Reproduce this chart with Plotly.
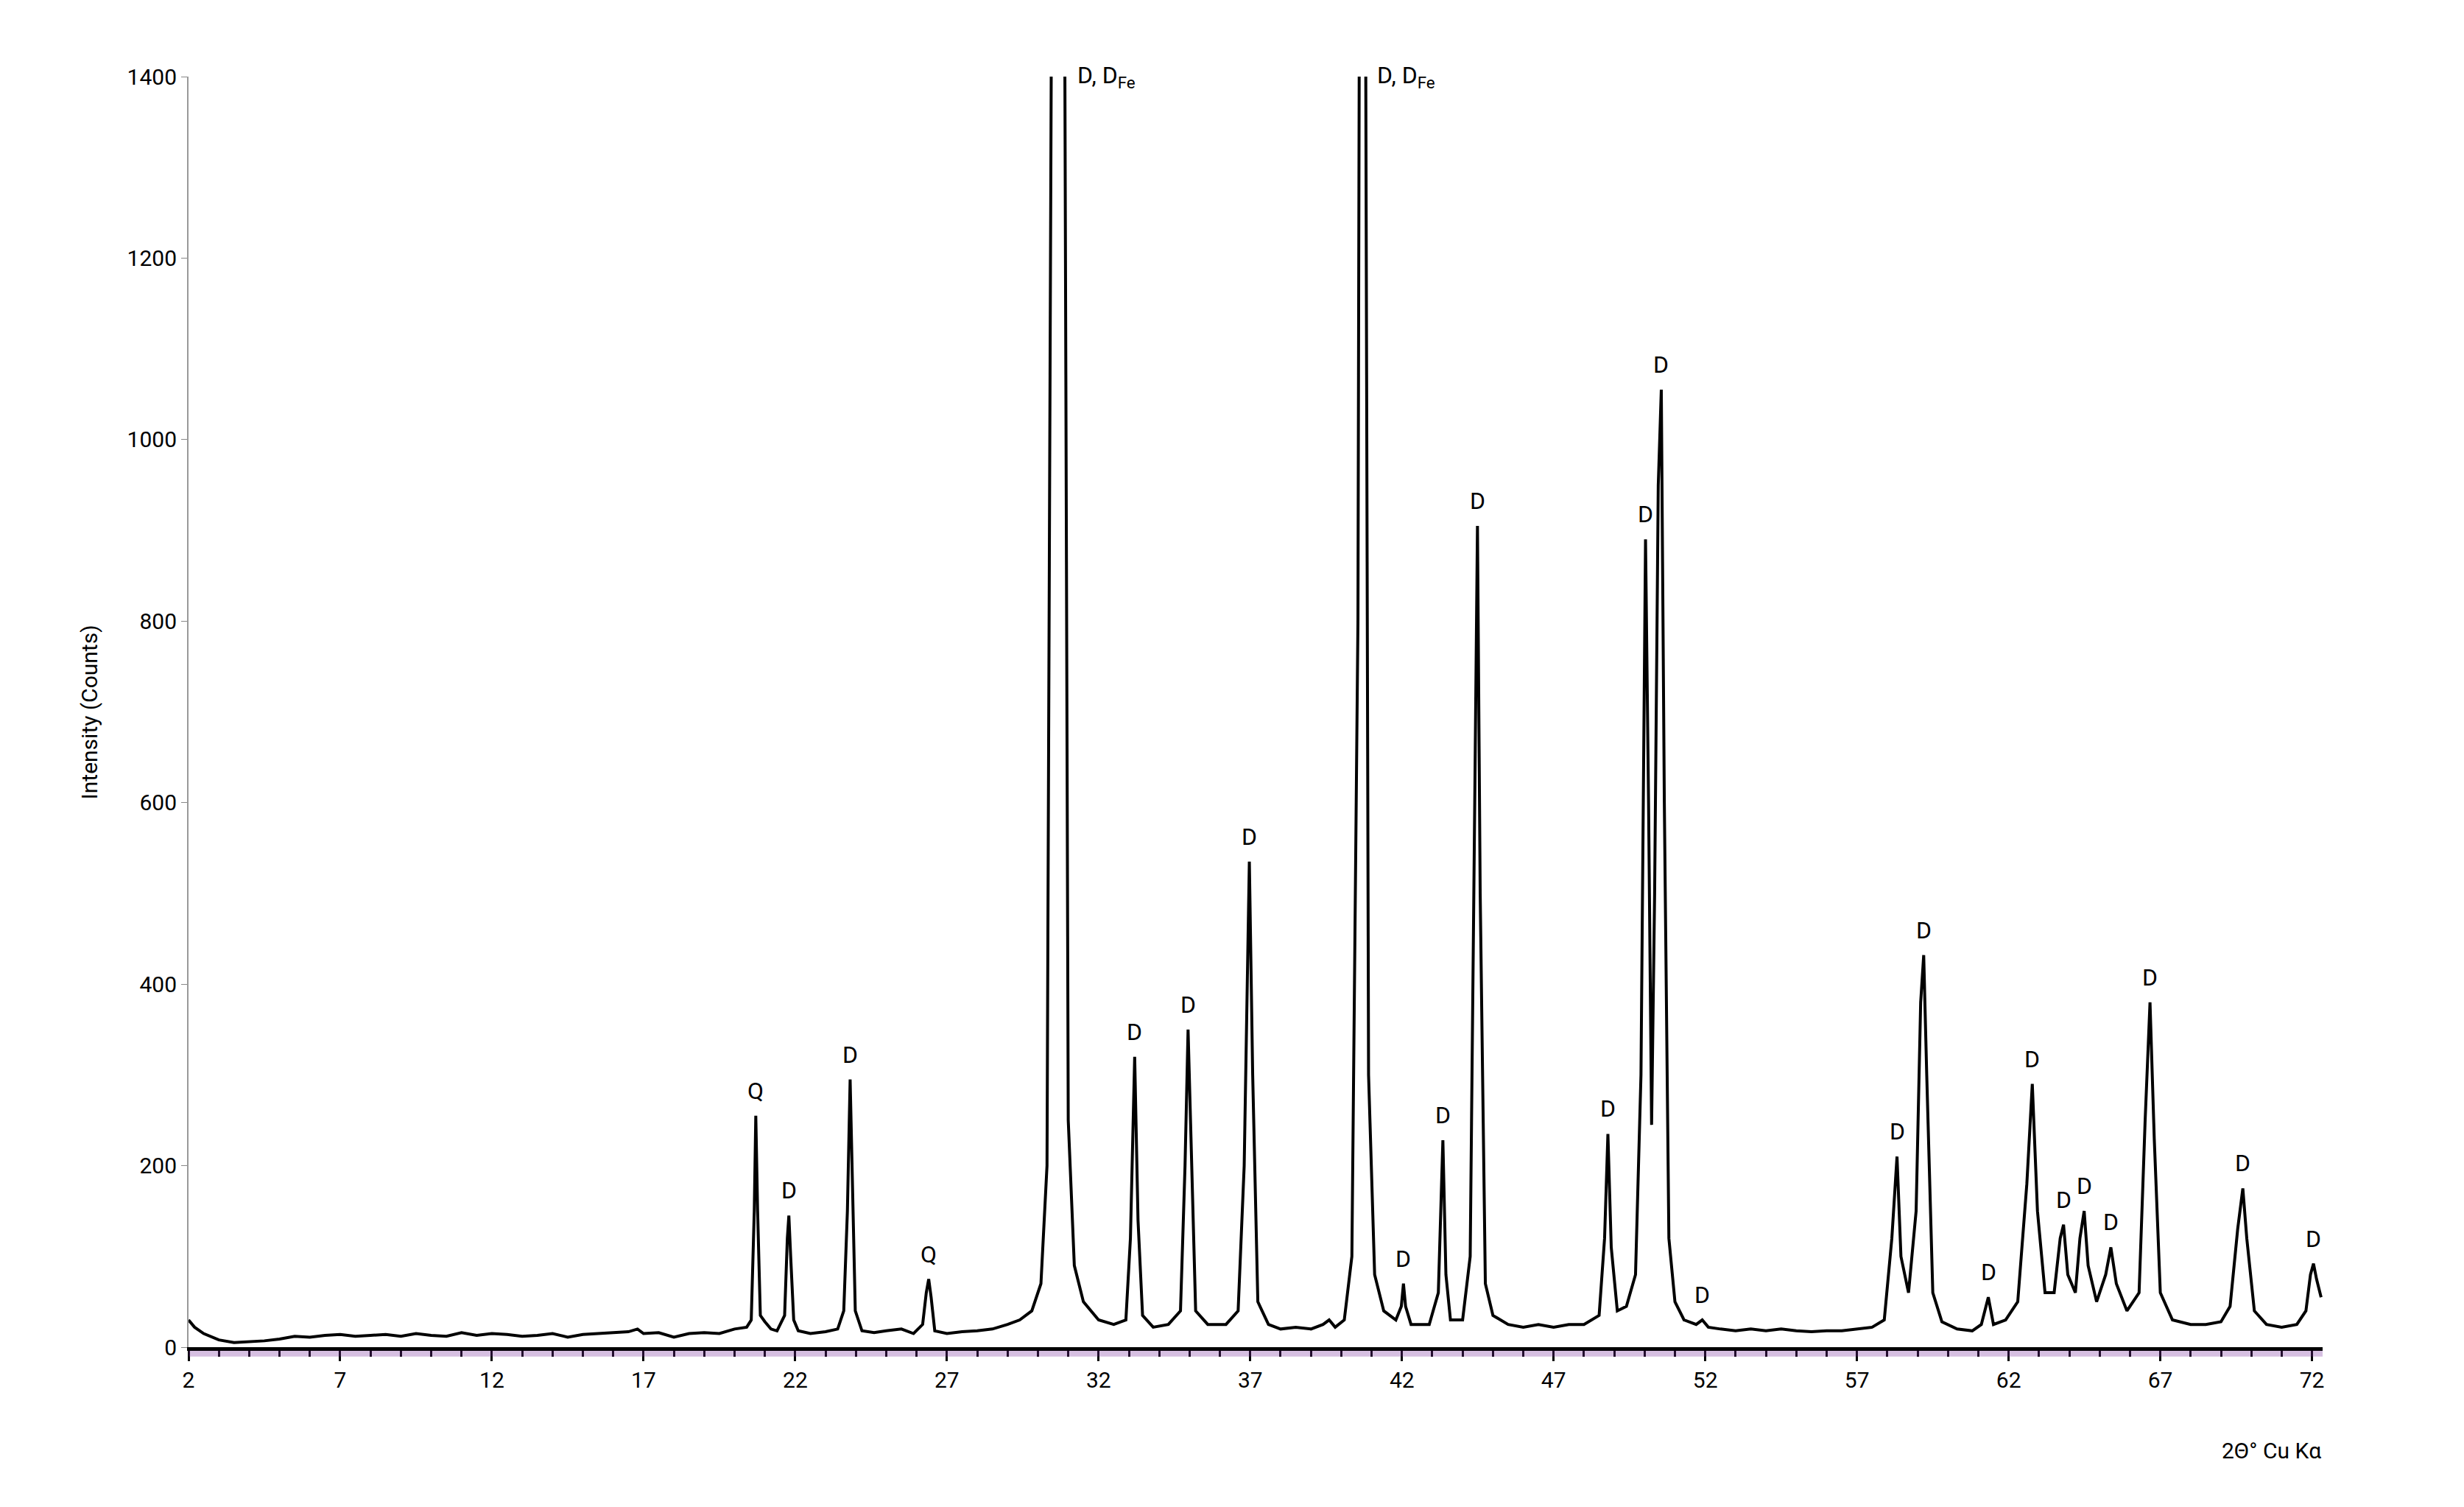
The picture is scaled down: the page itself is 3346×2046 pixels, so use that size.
import plotly.graph_objects as go

two_theta = [2.0,2.2,2.5,3.0,3.5,4.0,4.5,5.0,5.5,6.0,6.5,7.0,7.5,8.0,8.5,9.0,9.5,10.0,10.5,11.0,11.5,12.0,12.5,13.0,13.5,14.0,14.5,15.0,15.5,16.0,16.5,16.8,17.0,17.5,18.0,18.5,19.0,19.5,20.0,20.4,
 20.55,20.65,20.70,20.76,20.85,21.0,21.2,21.4,
 21.65,21.74,21.79,21.85,21.95,22.1,22.5,23.0,23.4,23.6,23.72,23.81,23.88,23.98,24.2,24.6,25.0,25.5,25.9,26.2,26.32,26.40,26.48,26.6,27.0,27.5,28.0,28.5,29.0,29.4,29.8,30.1,30.3,30.45,30.5,30.65,30.81,30.88,31.0,31.2,31.5,32.0,32.5,32.9,33.05,33.19,33.3,33.45,33.8,34.3,34.7,34.85,34.95,35.05,35.2,35.6,36.2,36.6,36.8,36.97,37.08,37.25,37.6,38.0,38.5,39.0,39.4,39.6,39.8,40.1,40.35,40.55,40.62,40.70,40.80,40.9,41.1,41.4,41.8,41.98,42.05,42.12,42.3,42.9,43.2,43.35,43.45,43.6,44.0,44.25,44.4,44.49,44.58,44.75,45.0,45.5,46.0,46.5,47.0,47.5,48.0,48.5,48.68,48.79,48.9,49.1,49.4,49.7,49.88,50.03,50.13,50.23,50.33,50.45,50.55,50.65,50.8,51.0,51.3,51.7,51.9,52.1,52.5,53.0,53.5,54.0,54.5,55.0,55.5,56.0,56.5,57.0,57.5,57.9,58.15,58.32,58.45,58.7,58.95,59.1,59.2,59.3,59.5,59.8,60.3,60.8,61.1,61.33,61.5,61.9,62.3,62.6,62.78,62.95,63.2,63.5,63.7,63.81,63.95,64.2,64.35,64.49,64.62,64.9,65.2,65.37,65.55,65.9,66.3,66.5,66.66,66.8,67.0,67.4,68.0,68.5,69.0,69.3,69.55,69.72,69.85,70.1,70.5,71.0,71.5,71.8,71.95,72.05,72.15,72.3]
counts = [30,22,15,8,5,6,7,9,12,11,13,14,12,13,14,12,15,13,12,16,13,15,14,12,13,15,11,14,15,16,17,20,15,16,11,15,16,15,20,22,
 30,150,255,150,35,28,20,18,
 35,120,145,100,30,18,15,17,20,40,150,295,180,40,18,16,18,20,15,25,60,75,55,18,15,17,18,20,25,30,40,70,200,1500,2500,3000,2500,1500,250,90,50,30,25,30,120,320,140,35,22,25,40,200,350,220,40,25,25,40,200,535,300,50,25,20,22,20,25,30,22,30,100,800,2000,3000,1500,300,80,40,30,45,70,45,25,25,60,228,80,30,30,100,600,905,500,70,35,25,22,25,22,25,25,35,120,235,110,40,45,80,300,890,600,245,500,950,1055,600,120,50,30,25,30,22,20,18,20,18,20,18,17,18,18,20,22,30,120,210,100,60,150,380,432,300,60,28,20,18,25,55,25,30,50,180,290,150,60,60,120,135,80,60,120,150,90,50,80,110,70,40,60,250,380,230,60,30,25,25,28,45,130,175,120,40,25,22,25,40,80,92,75,55]

label_x = [20.70,21.79,23.81,26.40,33.19,34.95,36.97,42.05,43.35,44.49,48.79,50.03,50.55,51.9,58.32,59.2,61.33,62.78,63.81,64.49,65.37,66.66,69.72,72.05]
label_y = [255,145,295,75,320,350,535,70,228,905,235,890,1055,30,210,432,55,290,135,150,110,380,175,92]
label_t = ["Q","D","D","Q","D","D","D","D","D","D","D","D","D","D","D","D","D","D","D","D","D","D","D","D"]
big_x = [30.95, 40.85]
big_y = [1400, 1400]
big_t = ["D, D<sub>Fe</sub>", "D, D<sub>Fe</sub>"]
ytick_vals = [0,200,400,600,800,1000,1200,1400]
xtick_vals = [2,7,12,17,22,27,32,37,42,47,52,57,62,67,72]

FONT = "Liberation Sans Narrow, Roboto, Arial"
fig = go.Figure()
fig.add_trace(go.Scatter(x=two_theta, y=counts, mode="lines",
                         line=dict(color="black", width=4), hoverinfo="skip"))

ann = []
for x, y, t in zip(label_x, label_y, label_t):
    ann.append(dict(x=x, y=y, text=t, showarrow=False, yshift=34,
                    font=dict(size=32, color="black", family=FONT)))
for x, y, t in zip(big_x, big_y, big_t):
    ann.append(dict(x=x, y=y, text=t, showarrow=False, xanchor="left", xshift=12, yshift=0,
                    font=dict(size=32, color="black", family=FONT)))
ann.append(dict(x=1.0, y=-0.07, xref="paper", yref="paper", text="2Θ° Cu Kα",
                showarrow=False, xanchor="right", yanchor="top",
                font=dict(size=30, color="black", family=FONT)))
ann.append(dict(x=-0.053, y=0.5, xref="paper", yref="paper", text="Intensity (Counts)",
                showarrow=False, textangle=-90,
                font=dict(size=30, color="black", family=FONT)))

fig.update_layout(
    width=3346, height=2046, template="simple_white",
    plot_bgcolor="white", paper_bgcolor="white", showlegend=False,
    margin=dict(l=248, r=200, t=96, b=225),
    annotations=ann,
    shapes=[dict(type="line", xref="paper", yref="paper", x0=0, x1=1, y0=-0.005, y1=-0.005,
                 line=dict(color="#7b2f9e", width=8))],
    xaxis=dict(range=[2, 72.35], tickvals=xtick_vals, ticks="outside", ticklen=14, tickwidth=3,
               tickcolor="black", showline=True, linecolor="black", linewidth=5,
               minor=dict(dtick=1, tick0=2, ticks="outside", ticklen=8, tickwidth=3, tickcolor="black"),
               tickfont=dict(size=30, family=FONT, color="black"), showgrid=False, zeroline=False),
    yaxis=dict(range=[0, 1400], tickvals=ytick_vals, ticks="outside", ticklen=8, tickwidth=1,
               tickcolor="#888", showline=True, linecolor="#999", linewidth=2,
               tickfont=dict(size=30, family=FONT, color="black"), showgrid=False, zeroline=False),
)
fig.write_html("out.html")
